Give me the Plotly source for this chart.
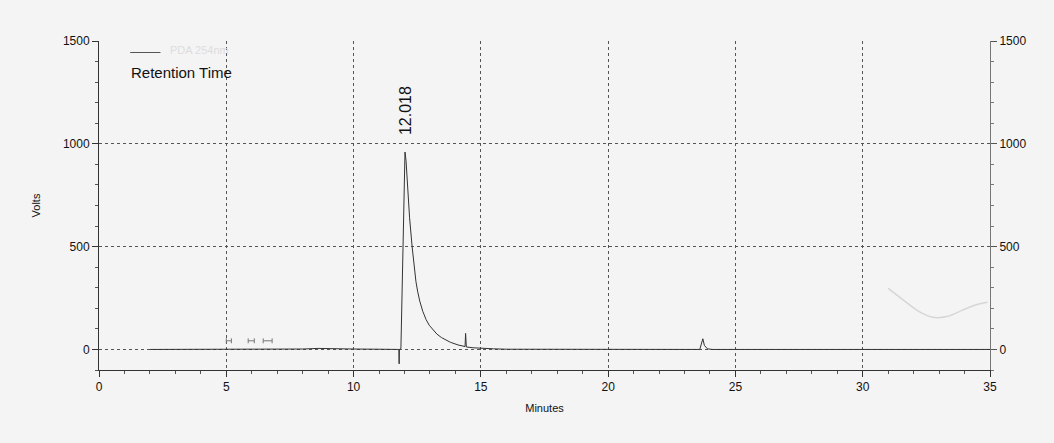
import plotly.graph_objects as go

# Chromatogram trace (minutes, volts)
time_min = [2.0, 4.0, 6.0, 8.0, 8.6, 9.2, 10.0, 11.0, 11.7, 11.78, 11.79, 11.80, 11.86, 11.91, 11.95,
            11.99, 12.02, 12.06, 12.12, 12.2, 12.3, 12.38, 12.45, 12.52, 12.6, 12.72, 12.85, 12.97,
            13.1, 13.27, 13.45, 13.62, 13.8, 14.1,
            14.38, 14.40, 14.41, 14.43, 14.7, 15.0, 15.5, 16.0, 18.0, 20.0, 22.0, 23.6, 23.72,
            23.78, 23.9, 24.1, 25.0, 27.0, 30.0, 33.0, 35.0]
volts = [0, 0, 0, 2, 5, 3, 2, 1, 0, 0, -70, 0, 5, 270, 500,
         840, 960, 920, 790, 640, 500, 400, 330, 280, 235, 185, 145, 118,
         97, 75, 58, 45, 35, 22,
         14, 78, 12, 12, 8, 5, 3, 1, 0, 0, 0, 0, 52,
         20, 3, 0, 0, 0, 0, 0, 0]

# faint scan shadow in the lower right corner
shadow_t = [31.0, 31.6, 32.2, 32.75, 33.3, 33.9, 34.4, 34.9]
shadow_v = [297, 240, 185, 156, 160, 190, 215, 229]

# integration event markers (start, end) in minutes
event_start = [5.0, 5.86, 6.45]
event_end = [5.2, 6.1, 6.8]
event_level = 42

peak_rt = [12.018]
peak_height = [960]
peak_labels = ["12.018"]

x_ticks = [0, 5, 10, 15, 20, 25, 30, 35]
y_ticks = [0, 500, 1000, 1500]

grid_col = "#555555"
bg = "#f4f4f4"

fig = go.Figure()

fig.add_trace(go.Scatter(x=shadow_t, y=shadow_v, mode="lines",
                         line=dict(color="#d6d6d6", width=1.5, shape="spline"),
                         hoverinfo="skip", showlegend=False))

fig.add_trace(go.Scatter(x=time_min, y=volts, mode="lines",
                         line=dict(color="#333333", width=1),
                         showlegend=False))

# event markers |-|
ex, ey = [], []
for s, e in zip(event_start, event_end):
    ex += [s, s, None, s, e, None, e, e, None]
    ey += [event_level - 12, event_level + 12, None, event_level, event_level, None,
           event_level - 12, event_level + 12, None]
fig.add_trace(go.Scatter(x=ex, y=ey, mode="lines",
                         line=dict(color="#777777", width=1),
                         hoverinfo="skip", showlegend=False))

# invisible trace for the right axis
fig.add_trace(go.Scatter(x=[0], y=[0], yaxis="y2", mode="markers",
                         marker=dict(opacity=0), hoverinfo="skip", showlegend=False))

for rt, h, lab in zip(peak_rt, peak_height, peak_labels):
    fig.add_annotation(x=rt, y=h + 75, text=lab, textangle=-90, showarrow=False,
                       xanchor="center", yanchor="bottom",
                       font=dict(family="Liberation Sans, Arial", size=16, color="#111111"))

# legend imitation
fig.add_shape(type="line", xref="paper", yref="paper", x0=0.035, x1=0.069, y0=0.965, y1=0.965,
              line=dict(color="#555555", width=1))
fig.add_annotation(xref="paper", yref="paper", x=0.113, y=0.972, text="PDA 254nm",
                   showarrow=False, xanchor="center", yanchor="middle",
                   font=dict(family="Liberation Sans, Arial", size=11, color="#dddddd"))
fig.add_annotation(xref="paper", yref="paper", x=0.034, y=0.905, text="Retention Time",
                   showarrow=False, xanchor="left", yanchor="middle",
                   font=dict(family="Liberation Sans, Arial", size=15, color="#111111"))

axis_font = dict(family="Liberation Sans, Arial", size=12, color="#111111")

fig.update_layout(
    width=1054, height=443,
    margin=dict(l=99, r=64, t=41, b=73),
    paper_bgcolor=bg, plot_bgcolor=bg,
    xaxis=dict(range=[0, 35], tickvals=x_ticks, ticks="outside", ticklen=6,
               tickcolor="#333333", showline=True, linecolor="#333333", linewidth=1,
               showgrid=True, gridcolor=grid_col, griddash="dot", gridwidth=1,
               zeroline=False, tickfont=axis_font,
               minor=dict(dtick=1, ticks="outside", ticklen=3, tickcolor="#555555", showgrid=False),
               title=dict(text="Minutes", font=dict(family="Liberation Sans, Arial", size=11, color="#111111"),
                          standoff=10)),
    yaxis=dict(range=[-100, 1500], tickvals=y_ticks, ticks="outside", ticklen=6,
               tickcolor="#333333", showline=True, linecolor="#333333", linewidth=1,
               showgrid=True, gridcolor=grid_col, griddash="dot", gridwidth=1,
               zeroline=False, tickfont=axis_font,
               minor=dict(dtick=100, ticks="outside", ticklen=3, tickcolor="#555555", showgrid=False),
               title=dict(text="Volts", font=dict(family="Liberation Sans, Arial", size=11, color="#111111"),
                          standoff=20)),
    yaxis2=dict(range=[-100, 1500], tickvals=y_ticks, overlaying="y", side="right",
                ticks="outside", ticklen=6, tickcolor="#555555", showline=True,
                linecolor="#777777", linewidth=1, showgrid=False, zeroline=False,
                tickfont=axis_font,
                minor=dict(dtick=100, ticks="outside", ticklen=3, tickcolor="#777777")),
)

fig.write_html("out.html")
